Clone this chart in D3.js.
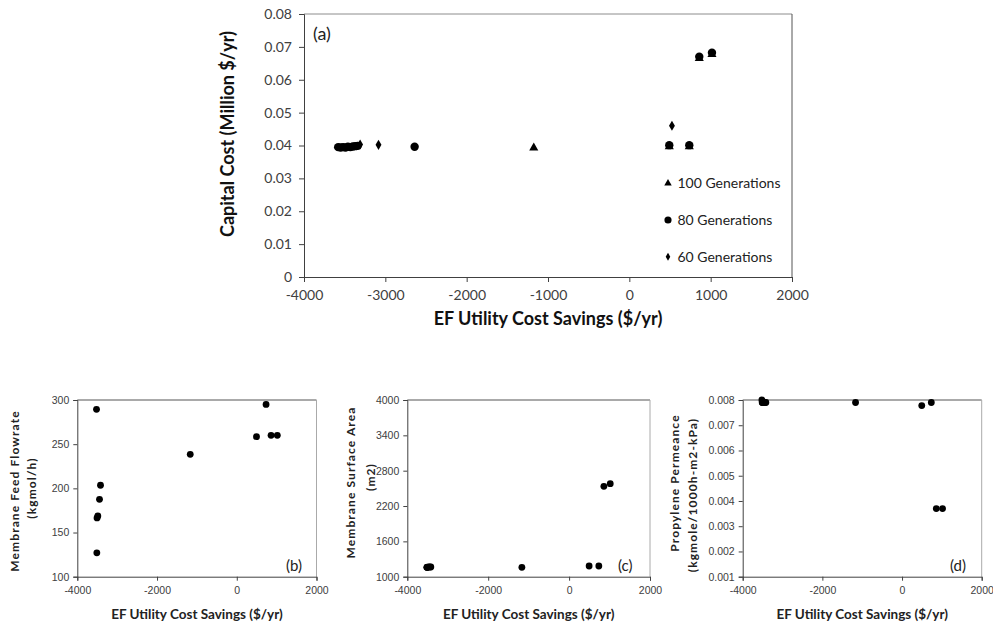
<!DOCTYPE html>
<html>
<head>
<meta charset="utf-8">
<script src="https://cdn.jsdelivr.net/npm/d3@7"></script>
<style>
  body { margin: 0; background: #fff; }
  svg { display: block; font-family: Lato, "Open Sans", sans-serif; }
</style>
</head>
<body>
<div id="chart"></div>
<script>
// ---- chart (a): capital cost vs utility savings, three GA runs ----
const gen100Savings = [-1175, 491, 737, 860, 1016];
const gen100Cost = [0.0396, 0.0400, 0.0400, 0.0668, 0.0680];

const gen80Savings = [-3580, -3550, -3520, -3490, -3460, -3430, -3400, -3370, -3340, -2640, 491, 737, 860, 1016];
const gen80Cost = [0.0395, 0.0394, 0.0395, 0.0394, 0.0396, 0.0395, 0.0397, 0.0398, 0.0399, 0.0396, 0.0401, 0.0401, 0.0670, 0.0682];

const gen60Savings = [-3310, -3084, 524];
const gen60Cost = [0.0403, 0.0402, 0.0460];

const topXTicks = [-4000, -3000, -2000, -1000, 0, 1000, 2000];
const topYTicks = [0, 0.01, 0.02, 0.03, 0.04, 0.05, 0.06, 0.07, 0.08];
const legendLabels = ["100 Generations", "80 Generations", "60 Generations"];

// ---- charts (b)-(d): design variables of the 80 generation run ----
const designSavings = [-3518, -3510, -3505, -3485, -3443, -3418, -1167, 495, 735, 860, 1017];
const feedFlow = [289.5, 127, 166.5, 168.7, 187.6, 203.5, 238.5, 258.5, 295, 260, 260];
const memArea = [1160, 1160, 1160, 1165, 1165, 1165, 1160, 1182, 1182, 2535, 2579];
const permeance = [0.0080, 0.0079, 0.0079, 0.0079, 0.0079, 0.0079, 0.0079, 0.00778, 0.0079, 0.0037, 0.0037];

const smallXTicks = [-4000, -2000, 0, 2000];
const feedTicks = [100, 150, 200, 250, 300];
const areaTicks = [1000, 1600, 2200, 2800, 3400, 4000];
const permTicks = [0.001, 0.002, 0.003, 0.004, 0.005, 0.006, 0.007, 0.008];

const width = 993, height = 623;
const svg = d3.select("#chart").append("svg")
    .attr("width", width)
    .attr("height", height);

const axisDark = "#404040";
const labelColor = "#404040";

// draws frame, axes, ticks and labels for one scatter panel
function drawFrame(g, x, y, opts) {
    const [x0, x1] = x.range();
    const [y0, y1] = y.range(); // y0 bottom, y1 top

    // top and right borders
    g.append("line").attr("x1", x0).attr("x2", x1).attr("y1", y1).attr("y2", y1)
        .attr("stroke", opts.topColor).attr("stroke-width", 1);
    g.append("line").attr("x1", x1).attr("x2", x1).attr("y1", y1).attr("y2", y0)
        .attr("stroke", opts.rightColor).attr("stroke-width", 1);

    const xAxis = g.append("g")
        .attr("transform", `translate(0,${y0})`)
        .call(d3.axisBottom(x).tickValues(opts.xTicks).tickSize(opts.tick).tickPadding(opts.xPad).tickFormat(d3.format("d")));
    const yAxis = g.append("g")
        .attr("transform", `translate(${x0},0)`)
        .call(d3.axisLeft(y).tickValues(opts.yTicks).tickSize(opts.tick).tickPadding(opts.yPad).tickFormat(opts.yFormat));

    [xAxis, yAxis].forEach(a => {
        a.select(".domain").attr("stroke", axisDark);
        a.selectAll(".tick line").attr("stroke", axisDark);
        a.selectAll(".tick text")
            .attr("fill", labelColor)
            .style("font-family", opts.tickFont)
            .style("font-size", opts.tickSize + "px");
    });
    xAxis.selectAll(".tick text").text(d => d < 0 ? "-" + Math.abs(d) : d);
}

// ---------------- chart (a) ----------------
const xTop = d3.scaleLinear().domain([-4000, 2000]).range([304, 792]);
const yTop = d3.scaleLinear().domain([0, 0.08]).range([277, 14]);

const gTop = svg.append("g");
drawFrame(gTop, xTop, yTop, {
    topColor: "#8c8c8c", rightColor: "#555",
    xTicks: topXTicks, yTicks: topYTicks,
    tick: 5, xPad: 8, yPad: 7,
    yFormat: d => d === 0 ? "0" : d3.format(".2f")(d),
    tickFont: "Lato, sans-serif", tickSize: 14
});

const triangle = d3.symbol().type(d3.symbolTriangle).size(36);
const diamond = d3.symbol().type(d3.symbolDiamond).size(30);

// 100 generations (drawn first, under the others)
gTop.selectAll(".g100")
    .data(gen100Savings.map((s, i) => [s, gen100Cost[i]]))
    .enter().append("path")
    .attr("class", "g100")
    .attr("d", triangle)
    .attr("transform", d => `translate(${xTop(d[0])},${yTop(d[1]) + 1})`)
    .attr("fill", "#000");

gTop.selectAll(".g80")
    .data(gen80Savings.map((s, i) => [s, gen80Cost[i]]))
    .enter().append("circle")
    .attr("class", "g80")
    .attr("cx", d => xTop(d[0]))
    .attr("cy", d => yTop(d[1]))
    .attr("r", 4.2)
    .attr("fill", "#000");

gTop.selectAll(".g60")
    .data(gen60Savings.map((s, i) => [s, gen60Cost[i]]))
    .enter().append("path")
    .attr("class", "g60")
    .attr("d", diamond)
    .attr("transform", d => `translate(${xTop(d[0])},${yTop(d[1])})`)
    .attr("fill", "#000");

// legend
const legendY = [183.3, 220, 256.7];
const legendSyms = [
    d3.symbol().type(d3.symbolTriangle).size(24),
    d3.symbol().type(d3.symbolCircle).size(40),
    d3.symbol().type(d3.symbolDiamond).size(18)
];
legendLabels.forEach((lab, i) => {
    gTop.append("path")
        .attr("d", legendSyms[i])
        .attr("transform", `translate(668,${legendY[i]})`)
        .attr("fill", "#000");
    gTop.append("text")
        .attr("x", 677.5)
        .attr("y", legendY[i] + 4.8)
        .attr("font-size", "14px")
        .attr("fill", "#222")
        .text(lab);
});

gTop.append("text")
    .attr("x", 313).attr("y", 40)
    .attr("font-size", "18px")
    .attr("fill", "#222")
    .text("(a)");

gTop.append("text")
    .attr("x", 548).attr("y", 325)
    .attr("text-anchor", "middle")
    .attr("font-size", "18px")
    .attr("font-weight", "bold")
    .attr("fill", "#111")
    .text("EF Utility Cost Savings ($/yr)");

gTop.append("text")
    .attr("transform", "translate(234,134) rotate(-90)")
    .attr("text-anchor", "middle")
    .attr("font-size", "18px")
    .attr("font-weight", "bold")
    .attr("fill", "#111")
    .text("Capital Cost (Million $/yr)");

// ---------------- charts (b), (c), (d) ----------------
const panels = [
    {
        values: feedFlow, domain: [100, 300], ticks: feedTicks, left: 77.3, right: 316.5,
        format: d3.format("d"), tag: "(b)", tagX: 286,
        title: ["Membrane Feed Flowrate", "(kgmol/h)"], titleX: [19, 36], titleY: [491, 488]
    },
    {
        values: memArea, domain: [1000, 4000], ticks: areaTicks, left: 407.3, right: 650,
        format: d3.format("d"), tag: "(c)", tagX: 618,
        title: ["Membrane Surface Area", "(m2)"], titleX: [355, 375], titleY: [482.5, 477]
    },
    {
        values: permeance, domain: [0.001, 0.008], ticks: permTicks, left: 742.7, right: 981.7,
        format: d3.format(".3f"), tag: "(d)", tagX: 950,
        title: ["Propylene Permeance", "(kgmole/1000h-m2-kPa)"], titleX: [679, 697], titleY: [483, 495]
    }
];

panels.forEach(p => {
    const x = d3.scaleLinear().domain([-4000, 2000]).range([p.left, p.right]);
    const y = d3.scaleLinear().domain(p.domain).range([576.7, 400]);
    const g = svg.append("g");

    drawFrame(g, x, y, {
        topColor: "#555", rightColor: "#aaa",
        xTicks: smallXTicks, yTicks: p.ticks,
        tick: 4, xPad: 6, yPad: 4,
        yFormat: p.format,
        tickFont: "'Liberation Sans Narrow', 'Liberation Sans', sans-serif", tickSize: 10.5
    });

    g.selectAll("circle.pt")
        .data(designSavings.map((s, i) => [s, p.values[i]]))
        .enter().append("circle")
        .attr("class", "pt")
        .attr("cx", d => x(d[0]))
        .attr("cy", d => y(d[1]))
        .attr("r", 3.4)
        .attr("fill", "#000");

    g.append("text")
        .attr("x", p.tagX).attr("y", 571)
        .attr("font-size", "15px")
        .attr("fill", "#222")
        .text(p.tag);

    g.append("text")
        .attr("x", (p.left + p.right) / 2).attr("y", 619)
        .attr("text-anchor", "middle")
        .attr("font-size", "13.5px")
        .attr("font-weight", "bold")
        .attr("fill", "#222")
        .text("EF Utility Cost Savings ($/yr)");

    p.title.forEach((line, k) => {
        g.append("text")
            .attr("transform", `translate(${p.titleX[k]},${p.titleY[k]}) rotate(-90)`)
            .attr("text-anchor", "middle")
            .attr("font-size", "12px")
            .attr("font-weight", "bold")
            .attr("letter-spacing", "1.1px")
            .attr("fill", "#222")
            .text(line);
    });
});
</script>
</body>
</html>
